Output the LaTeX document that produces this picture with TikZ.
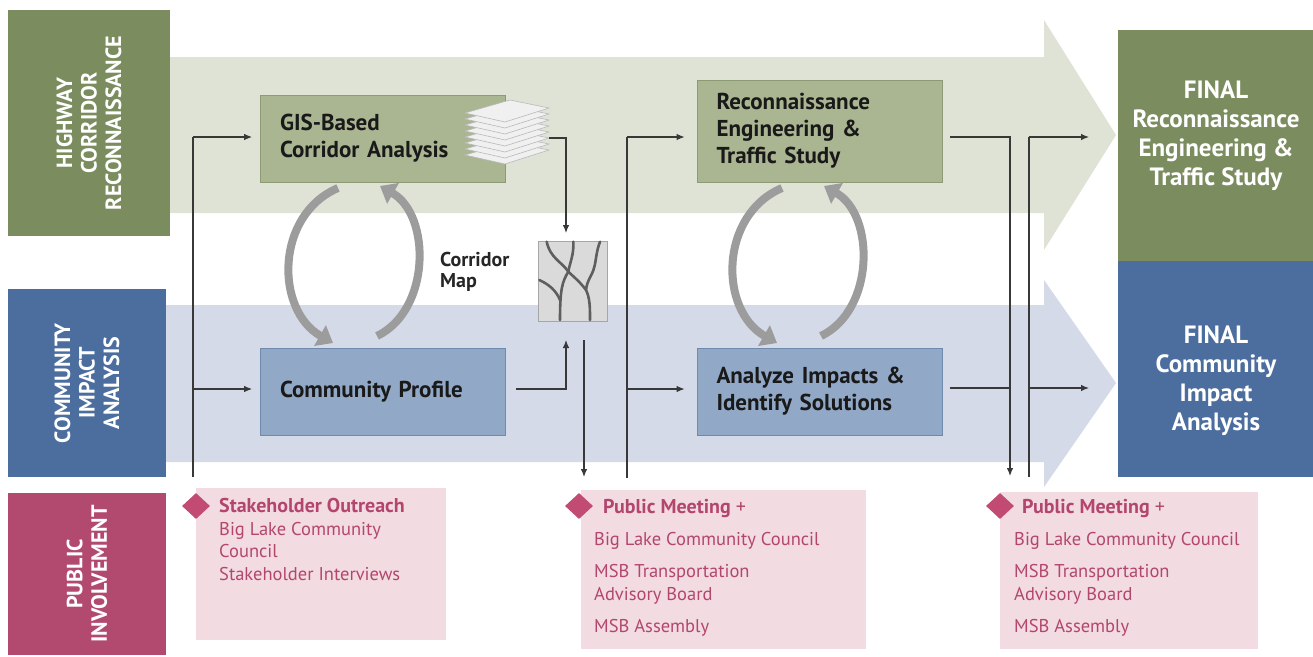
\documentclass[tikz,border=0pt]{standalone}
\usepackage{fontspec}
\setmainfont{PT Sans}
\usetikzlibrary{arrows.meta,shapes.geometric}
\definecolor{hgreen}{HTML}{7B8D5E}
\definecolor{hblue}{HTML}{4C6E9E}
\definecolor{hred}{HTML}{B24A6F}
\definecolor{bandgreen}{HTML}{DFE3D6}
\definecolor{bandblue}{HTML}{D4DAE7}
\definecolor{boxgreen}{HTML}{AAB592}
\definecolor{boxgreenline}{HTML}{8D9A74}
\definecolor{boxblue}{HTML}{92A8C7}
\definecolor{boxblueline}{HTML}{6F8AAF}
\definecolor{pinkbg}{HTML}{F3DBE2}
\definecolor{pinktext}{HTML}{B3466D}
\definecolor{pinkdia}{HTML}{C24B73}
\definecolor{loopgray}{HTML}{9C9C9C}
\definecolor{mapbg}{HTML}{DADADA}
\definecolor{maproad}{HTML}{5E5E5E}
\begin{document}
\begin{tikzpicture}[x=1pt,y=-1pt,
  side/.style={draw=none, inner sep=0pt, rotate=90, text=white, align=center,
    font=\fontsize{22}{24.5}\selectfont\bfseries},
  procbox/.style={draw=#1line, fill=#1, line width=0.8pt, inner xsep=19.5pt, inner ysep=0pt,
    text width=206pt, align=left, font=\fontsize{23}{27}\selectfont\bfseries, text=black!90},
  finalbox/.style={fill=#1, draw=none, inner sep=0pt},
  finaltext/.style={text=white, align=center, inner sep=0pt, font=\fontsize{25}{29}\selectfont\bfseries},
  pinkbox/.style={fill=pinkbg, draw=none, inner sep=0pt},
  pinkhead/.style={anchor=base west, inner sep=0pt, text=pinktext, font=\fontsize{20}{22}\selectfont\bfseries},
  pinkline/.style={anchor=base west, inner sep=0pt, text=pinktext, font=\fontsize{18.5}{22}\selectfont},
  dia/.style={diamond, fill=pinkdia, draw=none, inner sep=0pt, minimum width=28pt, minimum height=26pt},
  conn/.style={line width=1.1pt, draw=black!78},
  connarrow/.style={conn, -{Latex[length=8pt,width=6.5pt]}},
  looparrow/.style={line width=8pt, draw=loopgray, -{Triangle[length=15pt,width=23pt]}},
  sheet/.style={fill=gray!12, draw=gray!55, line width=0.6pt},
]
\useasboundingbox (0,0) rectangle (1313,656);

% bands
\fill[bandgreen] (170,57) -- (1044,57) -- (1044,20) -- (1116,135) -- (1044,250) -- (1044,213) -- (170,213) -- cycle;
\fill[bandblue] (166,305) -- (1044,305) -- (1044,280) -- (1116,383) -- (1044,487) -- (1044,462) -- (166,462) -- cycle;

% side labels
\node[side, fill=hgreen, minimum width=226pt, minimum height=162pt] (lab1) at (89,123) {HIGHWAY\\CORRIDOR\\RECONNAISSANCE};
\node[side, fill=hblue, minimum width=188pt, minimum height=158pt] (lab2) at (87,383) {COMMUNITY\\IMPACT\\ANALYSIS};
\node[side, fill=hred, minimum width=162pt, minimum height=158pt] (lab3) at (87,574) {PUBLIC\\INVOLVEMENT};

% final boxes
\node[finalbox=hgreen, minimum width=195pt, minimum height=231pt] (fin1) at (1215.5,145.5) {};
\node[finalbox=hblue, minimum width=195pt, minimum height=216pt] (fin2) at (1215.5,369) {};
\node[finaltext] (fin1t) at (1216,136) {FINAL\\Reconnaissance\\Engineering \&\\Traffic Study};
\node[finaltext] (fin2t) at (1216,381) {FINAL\\Community\\Impact\\Analysis};

% process boxes
\node[procbox=boxgreen, minimum height=87pt] (gis) at (383,138.5) {GIS-Based\\Corridor Analysis};
\node[procbox=boxblue, minimum height=87pt] (cp) at (383,391.5) {Community Profile};
\node[procbox=boxgreen, minimum height=102pt] (recon) at (819.5,131) {Reconnaissance\\Engineering \&\\Traffic Study};
\node[procbox=boxblue, minimum height=87pt] (an) at (819.5,391.5) {Analyze Impacts \&\\Identify Solutions};

% stack icon
\foreach \k in {7,6,...,0}{
  \filldraw[sheet] (465,{113+6*\k}) -- (510,{100+6*\k}) -- (549,{108+6*\k}) -- (505,{122+6*\k}) -- cycle;
}
\coordinate (stackR) at (549,138);

% corridor map
\node[fill=mapbg, draw=gray!70, line width=0.6pt, minimum width=69pt, minimum height=80pt, inner sep=0pt] (map) at (572.5,281) {};
\begin{scope}[maproad, line width=2.6pt, line cap=round]
  \draw (546.7,241.7) .. controls (550,258) and (562,262) .. (568.3,271.7);
  \draw (573.3,241.7) .. controls (574,255) and (570,262) .. (568.3,271.7);
  \draw (568.3,271.7) .. controls (562,282) and (560,290) .. (560,320);
  \draw (539.3,280) .. controls (548,284) and (556,290) .. (560,300);
  \draw (568.3,271.7) .. controls (575,278) and (580,282) .. (586,290) .. controls (590,298) and (590,308) .. (590,320);
  \draw (600,241.7) .. controls (596,252) and (596,262) .. (594,268) .. controls (592,276) and (587,280) .. (586,290);
\end{scope}
\node[anchor=west, inner sep=0pt, align=left, font=\fontsize{20}{21}\selectfont\bfseries, text=black!85] (maplab) at (440,272) {Corridor\\Map};

% pink boxes
\node[pinkbox, minimum width=250pt, minimum height=152pt] (pi1) at (321,564) {};
\node[pinkbox, minimum width=285pt, minimum height=159pt] (pi2) at (723.5,569.5) {};
\node[pinkbox, minimum width=258pt, minimum height=157pt] (pi3) at (1129,570.5) {};
\node[dia] (d1) at (196,506) {};
\node[dia] (d2) at (579,506) {};
\node[dia] (d3) at (1000,506) {};

\node[pinkhead] (p1h) at (219,512) {Stakeholder Outreach};
\node[pinkline] (p1a) at (219,535) {Big Lake Community};
\node[pinkline] (p1b) at (219,557) {Council};
\node[pinkline] (p1c) at (219,580) {Stakeholder Interviews};

\node[pinkhead] (p2h) at (603,513) {Public Meeting \textmd{+}};
\node[pinkline] (p2a) at (594,545) {Big Lake Community Council};
\node[pinkline] (p2b) at (594,577) {MSB Transportation};
\node[pinkline] (p2c) at (594,600) {Advisory Board};
\node[pinkline] (p2d) at (594,632) {MSB Assembly};

\node[pinkhead] (p3h) at (1022,513) {Public Meeting \textmd{+}};
\node[pinkline] (p3a) at (1014,545) {Big Lake Community Council};
\node[pinkline] (p3b) at (1014,577) {MSB Transportation};
\node[pinkline] (p3c) at (1014,600) {Advisory Board};
\node[pinkline] (p3d) at (1014,632) {MSB Assembly};

% loop arrows
\draw[looparrow] (338,188) .. controls (275,215) and (275,310) .. (333,343);
\draw[looparrow] (377,336) .. controls (431,310) and (431,215) .. (380,186);
\draw[looparrow] (782,188) .. controls (719,215) and (719,310) .. (777,343);
\draw[looparrow] (821,336) .. controls (875,310) and (875,215) .. (824,186);

% connectors: first column
\coordinate (l1b) at (193,477);
\coordinate (l1t) at (193,137);
\coordinate (l1m) at (193,389);
\draw[conn] (l1b) -- (l1t);
\draw[connarrow, shorten >=8pt] (l1t) -- (l1t -| gis.west);
\draw[connarrow, shorten >=8pt] (l1m) -- (l1m -| cp.west);

% map connectors
\coordinate (mapin) at (566,241);
\draw[connarrow, shorten >=8pt] (stackR) -| (mapin);
\coordinate (cpout) at (516,389);
\coordinate (mapup) at (566,340);
\draw[connarrow] (cpout) -| (mapup);
\coordinate (mdt) at (584,340);
\coordinate (mdb) at (584,477);
\draw[connarrow] (mdt) -- (mdb);

% second column
\coordinate (l2b) at (627,478);
\coordinate (l2t) at (627,137);
\coordinate (l2m) at (627,389);
\draw[conn] (l2b) -- (l2t);
\draw[connarrow, shorten >=12pt] (l2t) -- (l2t -| recon.west);
\draw[connarrow, shorten >=12pt] (l2m) -- (l2m -| an.west);

% third column
\coordinate (r1) at (950,137);
\coordinate (r2) at (1010,137);
\coordinate (r3) at (1010,476);
\coordinate (a1) at (950,388);
\coordinate (a2) at (1010,388);
\draw[connarrow] (r1) -- (r2) -- (r3);
\draw[conn] (a1) -- (a2);
\coordinate (l3b) at (1029,477);
\coordinate (l3t) at (1029,137);
\coordinate (l3m) at (1029,388);
\coordinate (o1) at (1089,137);
\coordinate (o2) at (1089,388);
\draw[conn] (l3b) -- (l3t);
\draw[connarrow] (l3t) -- (o1);
\draw[connarrow] (l3m) -- (o2);
\end{tikzpicture}
\end{document}
